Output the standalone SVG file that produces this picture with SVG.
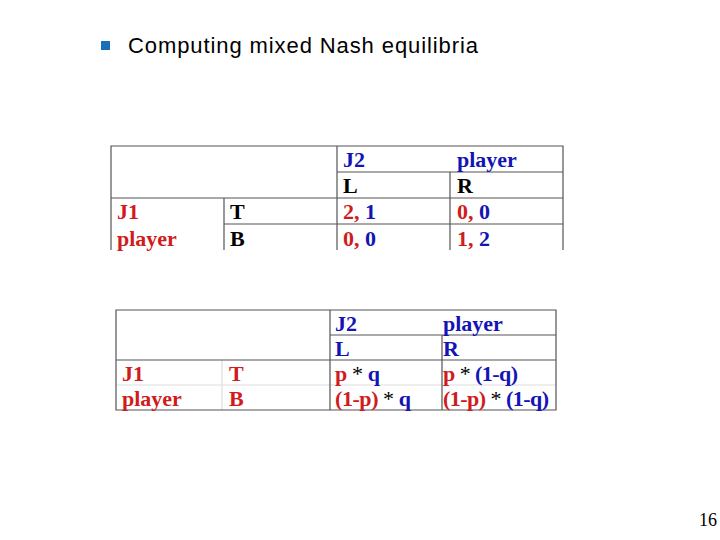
<svg xmlns="http://www.w3.org/2000/svg" width="720" height="540" viewBox="0 0 720 540">
<style>
.t{font-family:"Liberation Serif",serif;font-weight:bold;font-size:22px}
.r{fill:#d01c1c}.b{fill:#1414b4}.k{fill:#000}
.g{stroke:#555;stroke-width:1.2;fill:none}
.f{stroke:#ddd;stroke-width:1.2;fill:none}
</style>
<rect width="720" height="540" fill="#fff"/>
<rect x="101" y="41" width="9" height="9" fill="#1a6fb8"/>
<text x="128" y="53" font-family="Liberation Sans,sans-serif" font-size="22" textLength="350" fill="#000">Computing mixed Nash equilibria</text>
<g id="table1">
<path class="g" d="M111 250V146H563V250M337 146V250M450 172V250M224 198V250M337 172H563M111 198H563M224 224H563"/>
<text class="t b" x="343" y="167">J2</text><text class="t b" x="457" y="167">player</text>
<text class="t k" x="343" y="193">L</text><text class="t k" x="457" y="193">R</text>
<text class="t r" x="117" y="219">J1</text><text class="t k" x="230" y="219">T</text>
<text class="t" x="343" y="219"><tspan class="r">2, </tspan><tspan class="b">1</tspan></text>
<text class="t" x="457" y="219"><tspan class="r">0, </tspan><tspan class="b">0</tspan></text>
<text class="t r" x="117" y="246">player</text><text class="t k" x="230" y="246">B</text>
<text class="t" x="343" y="246"><tspan class="r">0, </tspan><tspan class="b">0</tspan></text>
<text class="t" x="457" y="246"><tspan class="r">1, </tspan><tspan class="b">2</tspan></text>
</g>
<g id="table2">
<path class="f" d="M222 360V410M116 385H556"/>
<path class="g" d="M116 310H556V410H116ZM330 310V410M442 335V410M330 335H556M116 360H556"/>
<text class="t b" x="335" y="331">J2</text><text class="t b" x="443" y="331">player</text>
<text class="t b" x="335" y="356">L</text><text class="t b" x="443" y="356">R</text>
<text class="t r" x="122" y="381">J1</text><text class="t r" x="229" y="381">T</text>
<text class="t" x="335" y="381" textLength="45"><tspan class="r">p</tspan><tspan class="k" font-weight="normal"> * </tspan><tspan class="b">q</tspan></text>
<text class="t" x="443" y="381" textLength="75"><tspan class="r">p</tspan><tspan class="k" font-weight="normal"> * </tspan><tspan class="b">(1-q)</tspan></text>
<text class="t r" x="122" y="406">player</text><text class="t r" x="229" y="406">B</text>
<text class="t" x="335" y="406" textLength="76"><tspan class="r">(1-p)</tspan><tspan class="k" font-weight="normal"> * </tspan><tspan class="b">q</tspan></text>
<text class="t" x="443" y="406" textLength="106"><tspan class="r">(1-p)</tspan><tspan class="k" font-weight="normal"> * </tspan><tspan class="b">(1-q)</tspan></text>
</g>
<text x="717" y="526" text-anchor="end" font-family="Liberation Serif,serif" font-size="18">16</text>
</svg>
